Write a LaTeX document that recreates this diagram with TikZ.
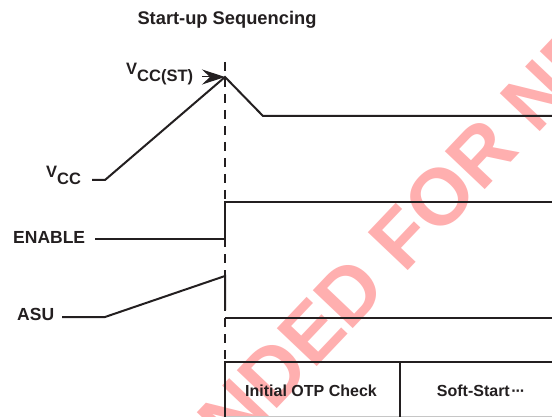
\documentclass[tikz,border=0pt]{standalone}
\usepackage{fontspec}
\setmainfont{Liberation Sans}
\usetikzlibrary{arrows.meta}
\definecolor{ink}{HTML}{231F20}
\definecolor{wm}{RGB}{255,175,175}
\begin{document}
\begin{tikzpicture}[x=1pt,y=-1pt,
  wave/.style={draw=ink,line width=2pt,line join=miter},
  guide/.style={draw=ink,line width=2pt,dash pattern=on 9pt off 7pt},
  lbl/.style={text=ink,inner sep=0pt,font=\bfseries\fontsize{17.5}{20}\selectfont},
  vlbl/.style={text=ink,inner sep=0pt,font=\bfseries\fontsize{16.5}{19}\selectfont},
  cell/.style={text=ink,inner sep=0pt,font=\bfseries\fontsize{16}{19}\selectfont}]
\useasboundingbox (0,0) rectangle (552,417);
\fill[white] (0,0) rectangle (552,417);
% watermark
\begin{scope}
\clip (0,0) rectangle (552,417);
\node[rotate=46.5,anchor=base,inner sep=0pt,text=wm,
      font=\bfseries\fontsize{80}{80}\selectfont] (wmark) at (405,274)
      {\llap{NOT RECOMMENDED }\rlap{FOR NEW DESIGNS}};
\end{scope}
% title
\node[lbl,font=\bfseries\fontsize{18.3}{21}\selectfont,anchor=base] (title) at (227,25) {Start-up Sequencing};
% labels
\node[vlbl,anchor=base west] (vccst) at (126,75) {V\raisebox{-7pt}{CC(ST)}};
\node[vlbl,anchor=base west] (vcc) at (46,178) {V\raisebox{-7pt}{CC}};
\node[lbl,anchor=base west] (enable) at (13,243.5) {ENABLE};
\node[lbl,anchor=base west] (asu) at (17,320) {ASU};
% key points
\coordinate (vcc0) at (92,180);
\coordinate (vcc1) at (105,180);
\coordinate (peak) at (225,77);
\coordinate (vcc2) at (263,116);
\coordinate (vccE) at (552,116);
\coordinate (arr0) at (202,77);
\coordinate (en0) at (95,239);
\coordinate (en1) at (225,239);
\coordinate (en2) at (225,202);
\coordinate (enE) at (552,202);
\coordinate (asu0) at (62,317);
\coordinate (asu1) at (105,317);
\coordinate (asu2) at (225,276);
\coordinate (asu3) at (225,310);
\coordinate (asu4) at (225,318);
\coordinate (asuE) at (552,318);
\coordinate (gtop) at (225,62);
\coordinate (gbot) at (225,362);
% guide
\draw[guide] (gtop) -- (gbot);
% waveforms
\draw[wave] (vcc0) -- (vcc1) -- (peak) -- (vcc2) -- (vccE);
\draw[ink,line width=1pt,-{Stealth[length=23pt,width=15pt,inset=8pt]}] (arr0) -- (peak);
\draw[wave] (en0) -- (en1) -- (en2) -- (enE);
\draw[wave] (asu0) -- (asu1) -- (asu2) -- (asu3);
\draw[wave] (asu4) -- (asuE);
% phase table
\coordinate (tl) at (225,362);
\coordinate (tr) at (552,362);
\coordinate (tbl) at (225,417);
\coordinate (tm) at (400,362);
\coordinate (tmb) at (400,417);
\draw[gray!45,line width=1pt] (225,416.5) -- (552,416.5);
\draw[wave] (tbl) -- (tl) -- (tr);
\draw[wave] (tm) -- (tmb);
\node[cell,anchor=base] (otp) at (311,396) {Initial OTP Check};
\node[cell,anchor=base] (ss) at (481,396) {Soft-Start\,\kern-1pt·\kern-1.2pt·\kern-1.2pt·};
\end{tikzpicture}
\end{document}
